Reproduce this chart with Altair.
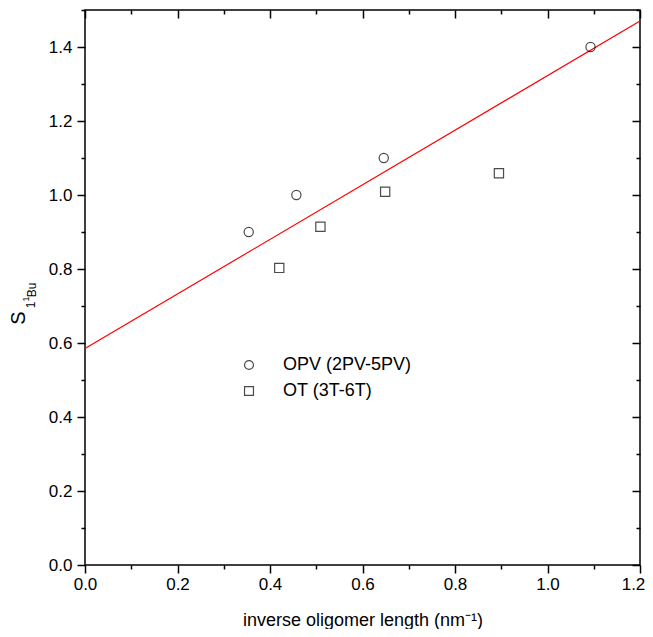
import altair as alt
import pandas as pd

# ---- data ----
opv_x = [0.354, 0.457, 0.646, 1.093]
opv_y = [0.90, 1.00, 1.10, 1.40]
ot_x = [0.420, 0.509, 0.649, 0.895]
ot_y = [0.803, 0.914, 1.009, 1.059]
fit_x = [0.0, 1.2]
fit_y = [0.585, 1.47]
series_names = ["OPV (2PV-5PV)", "OT (3T-6T)"]
x_ticks = [0.0, 0.1, 0.2, 0.3, 0.4, 0.5, 0.6, 0.7, 0.8, 0.9, 1.0, 1.1, 1.2]
y_ticks = [0.0, 0.1, 0.2, 0.3, 0.4, 0.5, 0.6, 0.7, 0.8, 0.9, 1.0, 1.1, 1.2, 1.3, 1.4, 1.5]
x_major = [0.0, 0.2, 0.4, 0.6, 0.8, 1.0, 1.2]
x_minor = [0.1, 0.3, 0.5, 0.7, 0.9, 1.1]
y_major = [0.0, 0.2, 0.4, 0.6, 0.8, 1.0, 1.2, 1.4]
y_minor = [0.1, 0.3, 0.5, 0.7, 0.9, 1.1, 1.3, 1.5]

FONT = "Liberation Sans"
W, H = 555, 555

pts = pd.DataFrame({
    "x": opv_x + ot_x,
    "y": opv_y + ot_y,
    "series": [series_names[0]] * len(opv_x) + [series_names[1]] * len(ot_x),
})
fit = pd.DataFrame({"x": fit_x, "y": fit_y})

xs = alt.Scale(domain=[0, 1.2], nice=False, zero=False)
ys = alt.Scale(domain=[0, 1.5], nice=False, zero=False)

odd_test = "abs(round(datum.value*10)) % 2 == 1"
size_cond = {"condition": {"test": odd_test, "value": 4}, "value": 8}
label_expr = f"{odd_test} ? '' : format(datum.value, '.1f')"
# keep the last x label inside the page
x_label_offset = {"condition": {"test": "datum.value > 1.15", "value": -7}, "value": 0}

# main layer: fit line with bottom / left axes (labels)
line = alt.Chart(fit).mark_line(color="#ff0000", strokeWidth=1.2).encode(
    x=alt.X("x:Q", scale=xs, axis=alt.Axis(
        orient="bottom", values=x_ticks, tickSize=size_cond, labelExpr=label_expr,
        labelOffset=x_label_offset,
        title="inverse oligomer length (nm⁻¹)", titlePadding=19,
        labelPadding=3, labelFlush=False, labelOverlap=False)),
    y=alt.Y("y:Q", scale=ys, axis=alt.Axis(
        orient="left", values=y_ticks, tickSize=size_cond, labelExpr=label_expr,
        title=None, labelPadding=5, labelOverlap=False)),
)

# points with top / right major inward ticks
points = alt.Chart(pts).mark_point(filled=False, color="black", size=85, strokeWidth=1.2).encode(
    x=alt.X("x:Q", scale=xs, axis=alt.Axis(
        orient="top", values=x_major, tickSize=8, offset=-8, labels=False, title=None)),
    y=alt.Y("y:Q", scale=ys, axis=alt.Axis(
        orient="right", values=y_major, tickSize=8, offset=-8, labels=False, title=None)),
    shape=alt.Shape("series:N", scale=alt.Scale(domain=series_names, range=["circle", "square"]),
                    legend=alt.Legend(title=None, orient="none", legendX=155, legendY=346,
                                      labelFontSize=18, labelFont=FONT, labelColor="black",
                                      symbolSize=80, symbolStrokeColor="black", symbolStrokeWidth=1.2,
                                      symbolFillColor="transparent", labelOffset=25, rowPadding=8)),
)

# invisible layer carrying top / right minor inward ticks
minor = alt.Chart(fit).mark_line(strokeOpacity=0).encode(
    x=alt.X("x:Q", scale=xs, axis=alt.Axis(
        orient="top", values=x_minor, tickSize=4, offset=-4, labels=False, title=None)),
    y=alt.Y("y:Q", scale=ys, axis=alt.Axis(
        orient="right", values=y_minor, tickSize=4, offset=-4, labels=False, title=None)),
)

# y-axis title S_{1^1Bu} built from pieces
one = pd.DataFrame({"a": [0]})
def piece(txt, px, py, fs):
    return alt.Chart(one).mark_text(angle=270, font=FONT, fontSize=fs, color="black",
                                    align="center", baseline="middle").encode(
        x=alt.value(px), y=alt.value(py), text=alt.value(txt))

ytitle = alt.layer(
    piece("S", -66, 308, 20),
    piece("1", -54, 295, 12),
    piece("1", -59, 289, 9),
    piece("Bu", -53, 280, 12),
)

chart = alt.layer(line, points, minor, ytitle).resolve_axis(
    x="independent", y="independent"
).properties(
    width=W, height=H,
    autosize=alt.AutoSizeParams(type="none"),
    padding={"left": 77, "top": 2, "right": 5, "bottom": 64},
).configure_view(
    stroke="black", strokeWidth=1.5
).configure_axis(
    domain=False, grid=False, tickColor="black", tickWidth=1.5,
    labelFont=FONT, labelFontSize=17, labelColor="black",
    titleFont=FONT, titleFontSize=18, titleFontWeight="normal", titleColor="black",
)

chart.save("out.html", embed_options={"renderer": "svg", "actions": False})
